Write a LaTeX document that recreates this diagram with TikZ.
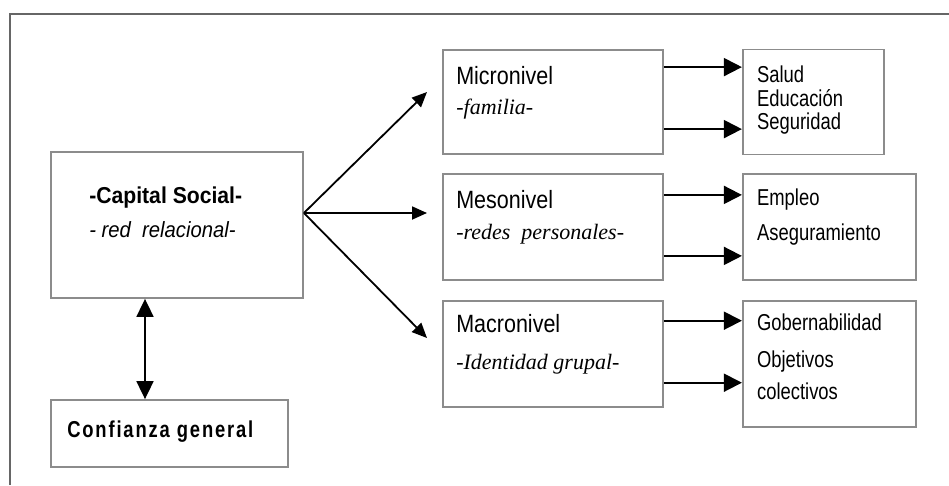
\documentclass[tikz,border=0pt]{standalone}
\usepackage{fontspec}
\setmainfont{Liberation Sans}
\newfontfamily\levelsf[FakeStretch=0.86]{Liberation Sans}
\newfontfamily\itemsf[FakeStretch=0.8]{Liberation Sans}
\newfontfamily\titlesf[FakeStretch=0.92]{Liberation Sans}
\newfontfamily\confsf[FakeStretch=0.8, LetterSpace=8]{Liberation Sans}
\newfontfamily\timesf{Liberation Serif}
\usetikzlibrary{positioning,arrows.meta,calc}

\begin{document}
\begin{tikzpicture}[
    x=1pt, y=-1pt,
    box/.style={draw=gray!90, line width=1.8pt, inner sep=0pt},
    arr/.style={-{Triangle[length=15pt, width=13pt]}, line width=1.8pt},
    side/.style={-{Triangle[length=18pt, width=18pt]}, line width=1.8pt},
    both/.style={{Triangle[length=18pt, width=17pt]}-{Triangle[length=18pt, width=17pt]}, line width=1.8pt},
    txt/.style={anchor=base west, inner sep=0pt},
    title/.style={txt, font=\titlesf\bfseries\fontsize{23}{27}\selectfont},
    level/.style={txt, font=\levelsf\fontsize{25}{29}\selectfont},
    sub/.style={txt, font=\timesf\itshape\fontsize{22}{26}\selectfont},
    item/.style={txt, font=\itemsf\fontsize{23}{27}\selectfont},
    frame/.style={draw=black!60, line width=2.5pt},
]
\useasboundingbox (0,0) rectangle (949,485);

% Outer frame
\draw[frame] (10,485) -- (10,14) -- (949,14);

% Left column
\node[box, minimum width=252pt, minimum height=146pt] (capital) at (177,225) {};
\node[box, minimum width=237pt, minimum height=67pt] (confianza) at (169.5,433.5) {};

\node[title] (capT) at ([shift={(39pt,-52pt)}]capital.north west) {-Capital Social-};
\node[txt, font=\titlesf\itshape\fontsize{22}{26}\selectfont] (capS) at ([shift={(39pt,-86pt)}]capital.north west) {- red\ \ relacional-};
\node[txt, font=\confsf\bfseries\fontsize{23}{27}\selectfont] (confT) at ([shift={(17pt,-38pt)}]confianza.north west) {Confianza general};

% Middle column: levels
\node[box, minimum width=220pt, minimum height=104pt] (micro) at (553,102) {};
\node[box, minimum width=220pt, minimum height=106pt, below=18pt of micro] (meso) {};
\node[box, minimum width=220pt, minimum height=106pt, below=19pt of meso] (macro) {};

\node[level] (microT) at ([shift={(14pt,-35pt)}]micro.north west) {Micronivel};
\node[sub] (microS) at ([shift={(14pt,-65pt)}]micro.north west) {-familia-};
\node[level] (mesoT) at ([shift={(14pt,-36pt)}]meso.north west) {Mesonivel};
\node[sub] (mesoS) at ([shift={(14pt,-67pt)}]meso.north west) {-redes\ \ personales-};
\node[level] (macroT) at ([shift={(14pt,-33pt)}]macro.north west) {Macronivel};
\node[sub] (macroS) at ([shift={(14pt,-70pt)}]macro.north west) {-Identidad grupal-};

% Right column: outcomes
\node[box, minimum width=141pt, minimum height=105pt, right=78pt of micro] (salud) {};
\node[box, minimum width=173pt, minimum height=106pt, right=78pt of meso] (empleo) {};
\node[box, minimum width=173pt, minimum height=126pt, anchor=north west] (gober) at (macro.north east -| empleo.west) {};

\node[item] (saludA) at ([shift={(15pt,-34pt)}]salud.north west) {Salud};
\node[item] (saludB) at ([shift={(15pt,-58pt)}]salud.north west) {Educación};
\node[item] (saludC) at ([shift={(15pt,-81pt)}]salud.north west) {Seguridad};
\node[item] (empleoA) at ([shift={(15pt,-33pt)}]empleo.north west) {Empleo};
\node[item] (empleoB) at ([shift={(15pt,-68pt)}]empleo.north west) {Aseguramiento};
\node[item] (goberA) at ([shift={(15pt,-31pt)}]gober.north west) {Gobernabilidad};
\node[item] (goberB) at ([shift={(15pt,-68pt)}]gober.north west) {Objetivos};
\node[item] (goberC) at ([shift={(15pt,-100pt)}]gober.north west) {colectivos};

% Arrows from Capital Social to the levels
\coordinate (toMicro) at (427,92);
\coordinate (toMeso) at (427,213);
\coordinate (toMacro) at (427,338);
\draw[arr] ([yshift=12pt]capital.east) -- (toMicro);
\draw[arr] ([yshift=12pt]capital.east) -- (toMeso);
\draw[arr] ([yshift=12pt]capital.east) -- (toMacro);

% Capital Social <-> Confianza general
\draw[both] ([xshift=-32pt]capital.south) -- ([xshift=-32pt]capital.south |- confianza.north);

% Levels to outcomes
\draw[side] ([yshift=-18pt]micro.north east) -- ([yshift=-18pt]micro.north east -| salud.west);
\draw[side] ([yshift=-80pt]micro.north east) -- ([yshift=-80pt]micro.north east -| salud.west);
\draw[side] ([yshift=-22pt]meso.north east) -- ([yshift=-22pt]meso.north east -| empleo.west);
\draw[side] ([yshift=-83pt]meso.north east) -- ([yshift=-83pt]meso.north east -| empleo.west);
\draw[side] ([yshift=-21pt]macro.north east) -- ([yshift=-21pt]macro.north east -| gober.west);
\draw[side] ([yshift=-83pt]macro.north east) -- ([yshift=-83pt]macro.north east -| gober.west);

\end{tikzpicture}
\end{document}
